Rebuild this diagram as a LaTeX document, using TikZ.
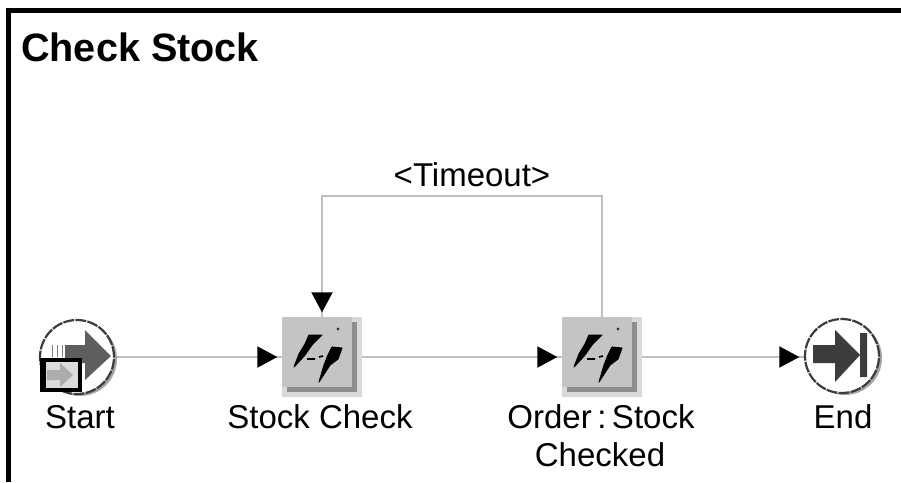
\documentclass[tikz,border=0pt]{standalone}
\usepackage{fontspec}
\setmainfont{Liberation Sans}
\usetikzlibrary{arrows.meta}
\definecolor{wiregray}{HTML}{C0C0C0}
\definecolor{facegray}{HTML}{C4C4C4}
\definecolor{edgegray}{HTML}{8E8E8E}
\definecolor{arrowgray}{HTML}{5E5E5E}
\definecolor{darkgray}{HTML}{3C3C3C}
\tikzset{
    wire/.style={draw=wiregray,line width=2pt},
    flow/.style={wire,postaction={draw=wiregray,line width=2pt,shorten >=4.5pt,-{Triangle[black,length=20pt,width=21pt]}}},
    stepbox/.style={minimum size=80pt,inner sep=0pt},
    endpoint/.style={circle,minimum size=76pt,inner sep=0pt},
    caption/.style={font=\fontsize{33}{38}\selectfont,inner sep=0pt},
    disc/.pic={
        \fill[gray!70] (3,2) circle (37pt);
        \draw[fill=white,draw=darkgray,line width=2.2pt,dash pattern=on 11pt off 1.2pt] (0,0) circle (37pt);
    },
    stepicon/.pic={
        \fill[facegray!65] (-40,-40) rectangle (40,40);
        \fill[edgegray] (30,-35) rectangle (35,35);
        \fill[edgegray] (-35,30) rectangle (35,35);
        \fill[facegray] (-40,-40) rectangle (30,30);
        \filldraw[black,line width=1pt,line join=round] (-13,-22) -- (0,-22) -- (-10,-12) -- (-17,-2) -- (-28,10) -- (-23,-3) -- (-17,-13) -- cycle;
        \filldraw[black,line width=1pt,line join=round] (10,-10) -- (20,-9) -- (16,2) -- (8,8) -- (-3,25) -- (2,8) -- (6,-2) -- cycle;
        \draw[black,line width=1.6pt] (-15,2) -- (-7,2) (-3,0) -- (1,-1);
        \fill[darkgray] (16,-28) circle (1.6pt);
    },
    starticon/.pic={
        \pic {disc};
        \fill[arrowgray] (-12,-12) -- (8,-12) -- (8,-27) -- (34,-1) -- (8,23) -- (8,6) -- (-12,6) -- cycle;
        \foreach \xs in {-25,-20,-15}
            \draw[gray,line width=1pt] (\xs,-12) -- (\xs,0);
        \draw[fill=facegray!60,draw=black,line width=3.5pt] (-33,3) rectangle (3,33);
        \fill[black] (-37,1) rectangle (-31,35);
        \fill[gray!65] (-30,13) -- (-17,13) -- (-17,6) -- (-4,18) -- (-17,30) -- (-17,23) -- (-30,23) -- cycle;
    },
    endicon/.pic={
        \pic {disc};
        \fill[darkgray] (-29,-11) -- (-7,-11) -- (-7,-26) -- (18,-1) -- (18,-23) -- (25,-23) -- (25,21) -- (18,21) -- (18,-1) -- (-7,26) -- (-7,7) -- (-29,7) -- cycle;
    }
}
\begin{document}
\begin{tikzpicture}[x=1pt,y=-1pt]
    \useasboundingbox (0,0) rectangle (901,482);
    \draw[line width=5pt] (8.5,482) -- (8.5,10.5) -- (901,10.5);
    \node[font=\bfseries\fontsize{39.6}{44}\selectfont,anchor=west,inner sep=0pt] (title) at (21,47) {Check Stock};
    % icons
    \node[endpoint] (start) at (77,357) {};
    \node[stepbox] (stock) at (322,357) {};
    \node[stepbox] (order) at (602,357) {};
    \node[endpoint] (end) at (842,356) {};
    \coordinate (rail) at (0,357);
    \coordinate (loop) at (0,196);
    % connectors
    \draw[flow] (start) -- (stock);
    \draw[flow] (stock) -- (order);
    \draw[flow] (order.east |- rail) -- (end.west |- rail);
    \draw[flow] (order.north) -- (order.north |- loop) -- (stock.north |- loop) -- (stock.north);
    \pic at (start) {starticon};
    \pic at (stock) {stepicon};
    \pic at (order) {stepicon};
    \pic at (end) {endicon};
    % labels
    \node[caption] (timeout) at (472,175) {<Timeout>};
    \node[caption] (startlabel) at (80,417) {Start};
    \node[caption] (stocklabel) at (320,417) {Stock Check};
    \node[caption] (orderlabel) at (601,417) {Order\,:\,Stock};
    \node[caption] (checkedlabel) at (600,455) {Checked};
    \node[caption] (endlabel) at (843,417) {End};
\end{tikzpicture}
\end{document}
